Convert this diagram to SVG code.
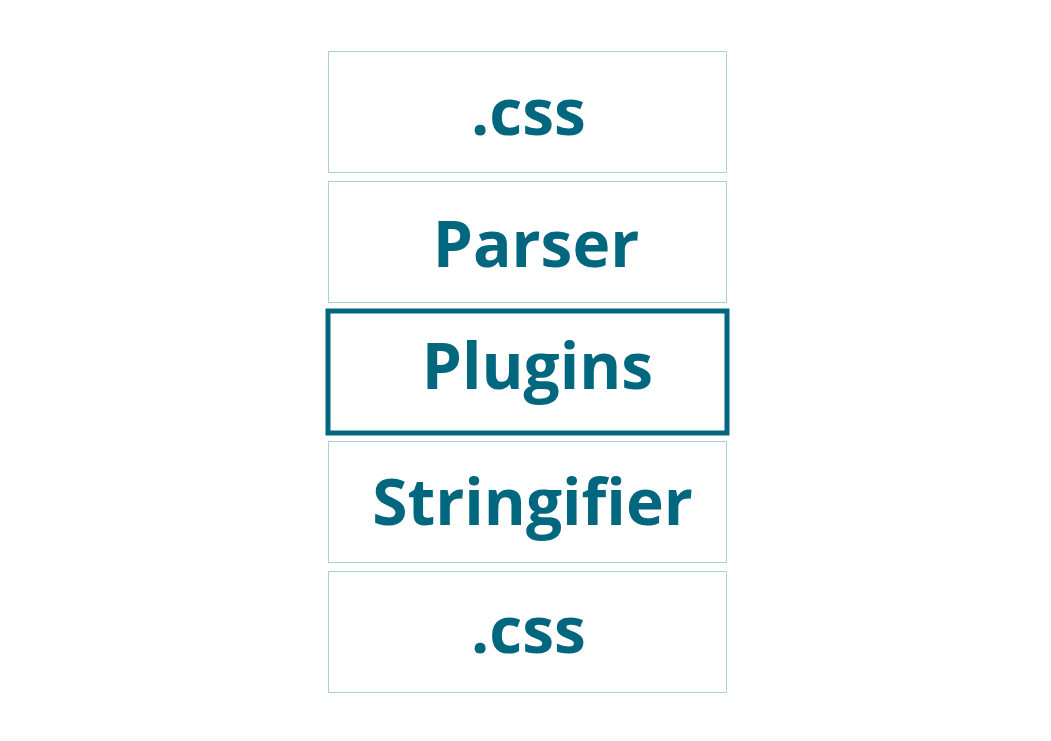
<svg xmlns="http://www.w3.org/2000/svg" width="1051" height="741" viewBox="0 0 1051 741">
<style>
.box{fill:#ffffff;stroke:#a8d1db;stroke-width:1}
.hl{fill:#ffffff;stroke:#00677e;stroke-width:5}
.lbl{font-family:"Open Sans",sans-serif;font-weight:700;font-size:64px;fill:#00677e;text-anchor:middle}
</style>
<rect width="1051" height="741" fill="#ffffff"/>
<g id="connectors"></g>
<g id="css-in">
<rect class="box" x="328.5" y="51.5" width="398" height="121"/>
<text class="lbl" x="528.5" y="135">.css</text>
</g>
<g id="parser">
<rect class="box" x="328.5" y="181.5" width="398" height="121"/>
<text class="lbl" x="536" y="266.5">Parser</text>
</g>
<g id="plugins">
<rect class="hl" x="328" y="311" width="399" height="122"/>
<text class="lbl" x="537.5" y="389">Plugins</text>
</g>
<g id="stringifier">
<rect class="box" x="328.5" y="441.5" width="398" height="121"/>
<text class="lbl" x="532.5" y="524.5">Stringifier</text>
</g>
<g id="css-out">
<rect class="box" x="328.5" y="571.5" width="398" height="121"/>
<text class="lbl" x="528.5" y="652.5">.css</text>
</g>
</svg>
